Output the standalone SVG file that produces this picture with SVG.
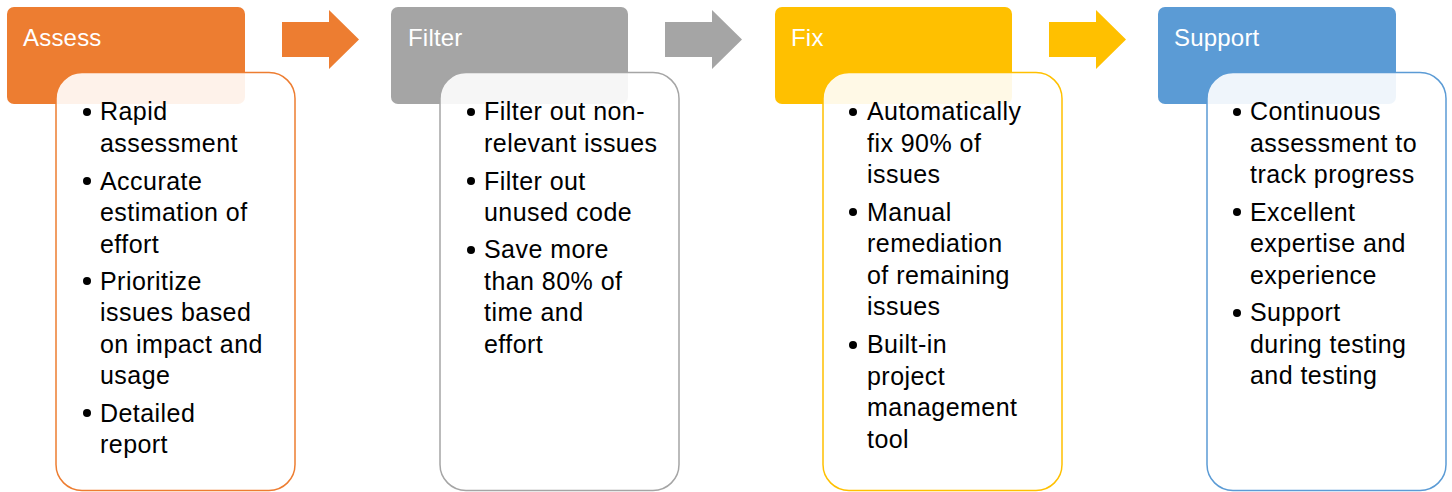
<svg xmlns="http://www.w3.org/2000/svg" width="1452" height="492" viewBox="0 0 1452 492">
<style>
.hdr{font-family:"Liberation Sans","Open Sans",sans-serif;font-size:24px;fill:#ffffff;letter-spacing:0.2px}
.bd{font-family:"Liberation Sans","Open Sans",sans-serif;font-size:25px;fill:#000000;letter-spacing:0.45px}
.box{fill:#ffffff;fill-opacity:0.9;stroke-width:1.5}
</style>
<rect width="1452" height="492" fill="#ffffff"/>
<g id="connectors">
<polygon points="282,22 329,22 329,10 359,39.5 329,69 329,57 282,57" fill="#ED7D31"/>
<polygon points="665,22 712,22 712,10 742,39.5 712,69 712,57 665,57" fill="#A5A5A5"/>
<polygon points="1049,22 1096,22 1096,10 1126,39.5 1096,69 1096,57 1049,57" fill="#FFC000"/>
</g>
<g id="assess">
<rect x="7" y="7" width="238" height="97" rx="7" fill="#ED7D31"/>
<text class="hdr" x="23" y="46">Assess</text>
<rect class="box" x="56" y="72.5" width="239" height="418" rx="26" stroke="#ED7D31"/>
<g class="bd">
<circle cx="87" cy="112" r="4"/><text x="100" y="120">Rapid</text><text x="100" y="151.5">assessment</text>
<circle cx="87" cy="181" r="4"/><text x="100" y="189.5">Accurate</text><text x="100" y="221">estimation of</text><text x="100" y="252.5">effort</text>
<circle cx="87" cy="281" r="4"/><text x="100" y="289.5">Prioritize</text><text x="100" y="321">issues based</text><text x="100" y="352.5">on impact and</text><text x="100" y="384">usage</text>
<circle cx="87" cy="413" r="4"/><text x="100" y="421.5">Detailed</text><text x="100" y="453">report</text>
</g>
</g>
<g id="filter">
<rect x="391" y="7" width="237" height="97" rx="7" fill="#A5A5A5"/>
<text class="hdr" x="408" y="46">Filter</text>
<rect class="box" x="440" y="72.5" width="239" height="418" rx="26" stroke="#A5A5A5"/>
<g class="bd">
<circle cx="471" cy="112" r="4"/><text x="484" y="120">Filter out non-</text><text x="484" y="151.5">relevant issues</text>
<circle cx="471" cy="181" r="4"/><text x="484" y="189.5">Filter out</text><text x="484" y="221">unused code</text>
<circle cx="471" cy="250" r="4"/><text x="484" y="258">Save more</text><text x="484" y="289.5">than 80% of</text><text x="484" y="321">time and</text><text x="484" y="352.5">effort</text>
</g>
</g>
<g id="fix">
<rect x="775" y="7" width="237" height="97" rx="7" fill="#FFC000"/>
<text class="hdr" x="791" y="46">Fix</text>
<rect class="box" x="823" y="72.5" width="239" height="418" rx="26" stroke="#FFC000"/>
<g class="bd">
<circle cx="853" cy="112" r="4"/><text x="867" y="120">Automatically</text><text x="867" y="151.5">fix 90% of</text><text x="867" y="183">issues</text>
<circle cx="853" cy="212" r="4"/><text x="867" y="220.5">Manual</text><text x="867" y="252">remediation</text><text x="867" y="283.5">of remaining</text><text x="867" y="315">issues</text>
<circle cx="853" cy="345" r="4"/><text x="867" y="353">Built-in</text><text x="867" y="384.5">project</text><text x="867" y="416">management</text><text x="867" y="447.5">tool</text>
</g>
</g>
<g id="support">
<rect x="1158" y="7" width="238" height="97" rx="7" fill="#5B9BD5"/>
<text class="hdr" x="1174" y="46">Support</text>
<rect class="box" x="1207" y="72.5" width="239" height="418" rx="26" stroke="#5B9BD5"/>
<g class="bd">
<circle cx="1237" cy="112" r="4"/><text x="1250" y="120">Continuous</text><text x="1250" y="151.5">assessment to</text><text x="1250" y="183">track progress</text>
<circle cx="1237" cy="212" r="4"/><text x="1250" y="220.5">Excellent</text><text x="1250" y="252">expertise and</text><text x="1250" y="283.5">experience</text>
<circle cx="1237" cy="313" r="4"/><text x="1250" y="321">Support</text><text x="1250" y="352.5">during testing</text><text x="1250" y="384">and testing</text>
</g>
</g>
</svg>
